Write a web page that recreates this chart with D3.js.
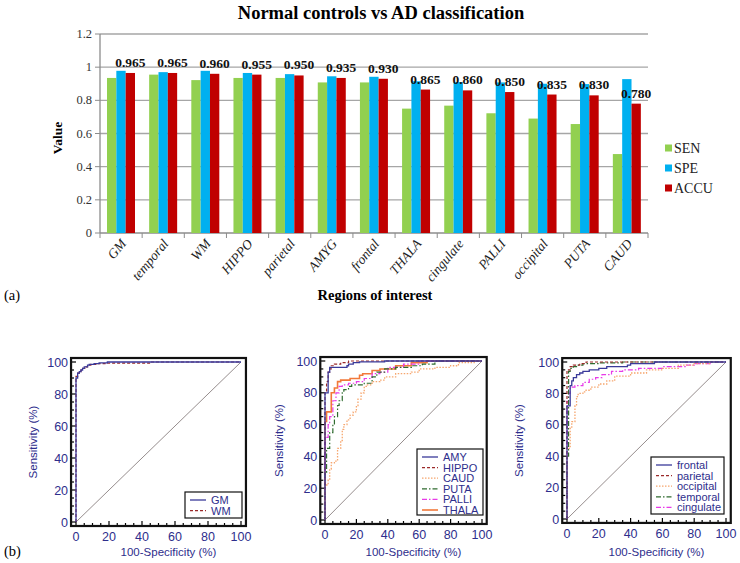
<!DOCTYPE html>
<html><head><meta charset="utf-8">
<script src="https://cdn.jsdelivr.net/npm/d3@7"></script>
<style>body{margin:0;background:#fff}svg{display:block}</style>
</head><body><svg id="c" width="740" height="563"></svg>
<script>
// ---------- DATA ----------
const categories = ["GM","temporal","WM","HIPPO","parietal","AMYG","frontal","THALA","cingulate","PALLI","occipital","PUTA","CAUD"];
const seriesNames = ["SEN","SPE","ACCU"];
const senValues  = [0.935,0.955,0.922,0.935,0.935,0.908,0.908,0.750,0.768,0.722,0.690,0.657,0.476];
const speValues  = [0.978,0.970,0.978,0.965,0.958,0.945,0.942,0.915,0.910,0.908,0.900,0.898,0.928];
const accuValues = [0.965,0.965,0.960,0.955,0.950,0.935,0.930,0.865,0.860,0.850,0.835,0.830,0.780];
const barTicks = [0,0.2,0.4,0.6,0.8,1,1.2];

// ROC curves: [100-Specificity %, Sensitivity %]
const rocGM = [[0,0],[0,88],[1,90],[1,92],[2,93],[3,94],[4,95],[5,96],[7,97],[8,98],[11,98.5],[14,99],[19,99.5],[20,100],[100,100]];
const rocWM = [[0,0],[0,89],[1,91],[2,93],[3,94],[4,95],[6,96],[7,97],[9,98],[12,98.5],[19,99],[45,99.3],[46,100],[100,100]];
const rocAMY = [[0,0],[0,80],[2,80],[2,86],[3,93],[5,96],[14,96],[15,97],[18,98],[22,99],[38,99.5],[40,100],[100,100]];
const rocHIPPO = [[0,0],[0,72],[1,80],[2,87],[3,93],[4,95],[6,97],[10,98],[15,99],[20,100],[100,100]];
const rocCAUD = [[0,0],[0,20],[2,22],[3,25],[4,32],[6,36],[8,37],[10,45],[11,50],[12,57],[14,60],[16,63],[18,66],[20,68],[21,72],[23,76],[25,80],[27,84],[30,85],[35,87],[38,88],[45,90],[55,92],[60,93],[70,95],[80,96],[85,97],[95,99],[100,100]];
const rocPUTA = [[0,0],[0,28],[1,30],[1,43],[3,45],[3,53],[5,55],[6,60],[8,65],[9,72],[11,75],[12,80],[15,82],[17,84],[25,85],[30,86],[33,90],[38,93],[45,95],[55,96],[62,97],[70,98],[78,100],[100,100]];
const rocPALLI = [[0,0],[0,50],[2,52],[3,60],[5,65],[7,75],[9,80],[11,84],[15,85],[20,86],[25,87],[30,89],[35,92],[40,93],[50,96],[60,98],[75,100],[100,100]];
const rocTHALA = [[0,0],[0,62],[1,62],[1,68],[4,68],[4,75],[6,80],[8,83],[10,87],[12,88],[16,88],[18,89],[22,89],[24,91],[30,92],[35,94],[45,95],[55,97],[65,99],[80,100],[100,100]];
const rocFrontal = [[0,0],[0,70],[2,72],[3,85],[4,88],[6,90],[8,92],[10,93],[14,94],[20,95],[25,96],[38,97],[40,98],[55,99],[70,100],[100,100]];
const rocParietal = [[0,0],[0,93],[2,95],[4,97],[8,98],[12,99],[16,100],[100,100]];
const rocOccipital = [[0,0],[0,40],[2,45],[3,58],[5,62],[6,72],[7,78],[10,80],[12,81],[15,82],[20,84],[25,86],[30,88],[40,91],[50,93],[60,95],[70,96],[80,98],[90,99],[100,100]];
const rocTemporal = [[0,0],[0,38],[1,40],[1,90],[2,94],[4,96],[6,97],[10,98],[20,99],[35,99.5],[60,100],[100,100]];
const rocCingulate = [[0,0],[0,72],[1,75],[2,80],[5,84],[10,85],[14,87],[18,89],[22,90],[28,92],[35,94],[45,95],[60,96],[75,97],[80,98],[90,99],[100,100]];
const rocTicks = [0,20,40,60,80,100];

// ---------- STYLES ----------
const barColors = ["#92d050","#00b0f0","#c00000"];
const serif = "'Liberation Serif','Times New Roman',serif";
const sans = "'Liberation Sans',Arial,sans-serif";
const navy = "#2e2e8c";
const styleMap = {
  navy:   {color:"#3a3a9a", dash:null, w:1.3},
  red:    {color:"#9b2a2a", dash:"3,2", w:1.2},
  orange: {color:"#f6a66e", dash:"1.5,1.5", w:1.3},
  green:  {color:"#2f6b2f", dash:"5,2,1.5,2", w:1.2},
  magenta:{color:"#e83be8", dash:"5,2,1.5,2", w:1.2},
  thala:  {color:"#f2793a", dash:null, w:1.6}
};

const svg = d3.select("#c");

// ---------- BAR CHART ----------
const bx = d3.scaleBand().domain(categories).range([100,648]);
const bs = d3.scaleBand().domain(seriesNames).range([7,35]);
const by = d3.scaleLinear().domain([0,1.2]).range([233,34]);

svg.append("text").attr("x",381).attr("y",19).attr("text-anchor","middle")
  .attr("font-family",serif).attr("font-weight","bold").attr("font-size",18.5)
  .text("Normal controls vs AD classification");

const gGrid = svg.append("g");
barTicks.forEach(t=>{
  gGrid.append("line").attr("x1",100).attr("x2",648).attr("y1",by(t)).attr("y2",by(t))
    .attr("stroke",t===0?"#8c8c8c":"#a6a6a6").attr("stroke-width",1.3);
  gGrid.append("line").attr("x1",95).attr("x2",100).attr("y1",by(t)).attr("y2",by(t)).attr("stroke","#8c8c8c");
  gGrid.append("text").attr("x",92).attr("y",by(t)+4).attr("text-anchor","end")
    .attr("font-family",serif).attr("font-size",12.5).attr("fill","#333").text(t);
});
gGrid.append("line").attr("x1",100).attr("x2",100).attr("y1",by(1.2)).attr("y2",by(0)).attr("stroke","#8c8c8c").attr("stroke-width",1.3);
categories.concat(["_end"]).forEach((c,i)=>{
  const xx = 100 + i*bx.step();
  gGrid.append("line").attr("x1",xx).attr("x2",xx).attr("y1",233).attr("y2",238).attr("stroke","#8c8c8c");
});

const valuesBySeries = [senValues, speValues, accuValues];
const gBars = svg.append("g");
categories.forEach((c,i)=>{
  seriesNames.forEach((s,j)=>{
    const v = valuesBySeries[j][i];
    gBars.append("rect").attr("x",bx(c)+bs(s)).attr("width",bs.bandwidth())
      .attr("y",by(v)).attr("height",by(0)-by(v)).attr("fill",barColors[j]);
  });
  gBars.append("text").attr("x",bx(c)+bs("ACCU")+bs.bandwidth()/2).attr("y",by(accuValues[i])-6)
    .attr("text-anchor","middle").attr("font-family",serif).attr("font-weight","bold").attr("font-size",13.5)
    .attr("fill","#111").text(d3.format(".3f")(accuValues[i]));
  const cx = bx(c)+bx.bandwidth()/2+6;
  gBars.append("text").attr("transform",`translate(${cx},244) rotate(-50)`).attr("text-anchor","end")
    .attr("font-family",serif).attr("font-style","italic").attr("font-size",13.5).attr("fill","#222").text(c);
});

svg.append("text").attr("transform","translate(62,138) rotate(-90)").attr("text-anchor","middle")
  .attr("font-family",serif).attr("font-weight","bold").attr("font-size",13.5).text("Value");
svg.append("text").attr("x",375).attr("y",300).attr("text-anchor","middle")
  .attr("font-family",serif).attr("font-weight","bold").attr("font-size",14.5).text("Regions of interest");
svg.append("text").attr("x",4).attr("y",300).attr("font-family",serif).attr("font-size",14.5).text("(a)");

seriesNames.forEach((s,j)=>{
  const ly = 148 + j*20;
  svg.append("rect").attr("x",665).attr("y",ly-3.5).attr("width",7).attr("height",7).attr("fill",barColors[j]);
  svg.append("text").attr("x",674).attr("y",ly+5).attr("font-family",serif).attr("font-size",14).attr("fill","#222").text(s);
});

// ---------- ROC PANELS ----------
const panels = [
  {x0:76, x1:241, y0:522, y1:362, sensX:33, series:[["GM",rocGM,"navy"],["WM",rocWM,"red"]],
   leg:{x:185,y:492,w:57,h:26}},
  {x0:325, x1:482, y0:520, y1:361, sensX:279, series:[["AMY",rocAMY,"navy"],["HIPPO",rocHIPPO,"red"],["CAUD",rocCAUD,"orange"],["PUTA",rocPUTA,"green"],["PALLI",rocPALLI,"magenta"],["THALA",rocTHALA,"thala"]],
   leg:{x:417,y:449,w:66,h:66}},
  {x0:567, x1:726, y0:519, y1:362, sensX:519, series:[["frontal",rocFrontal,"navy"],["parietal",rocParietal,"red"],["occipital",rocOccipital,"orange"],["temporal",rocTemporal,"green"],["cingulate",rocCingulate,"magenta"]],
   leg:{x:651,y:457,w:73,h:57}}
];

panels.forEach(p=>{
  const x = d3.scaleLinear().domain([0,100]).range([p.x0,p.x1]);
  const y = d3.scaleLinear().domain([0,100]).range([p.y0,p.y1]);
  const g = svg.append("g");
  const fl = x(-3), fr = x(103), ft = y(102.5), fb = y(-2.5);
  g.append("line").attr("x1",x(0)).attr("y1",y(0)).attr("x2",x(100)).attr("y2",y(100)).attr("stroke","#8a8080").attr("stroke-width",0.9);
  d3.range(0,101,5).forEach(t=>{
    const major = t%20===0, L = major?5:3;
    g.append("line").attr("x1",x(t)).attr("x2",x(t)).attr("y1",fb).attr("y2",fb-L).attr("stroke","#000").attr("stroke-width",1.2);
    g.append("line").attr("x1",fl).attr("x2",fl+L).attr("y1",y(t)).attr("y2",y(t)).attr("stroke","#000").attr("stroke-width",1.2);
  });
  const line = d3.line().x(d=>x(d[0])).y(d=>y(d[1])).curve(d3.curveStepBefore);
  p.series.slice().reverse().forEach(([name,data,st])=>{
    const s = styleMap[st];
    g.append("path").attr("d",line(data)).attr("fill","none").attr("stroke",s.color)
      .attr("stroke-width",s.w).attr("stroke-dasharray",s.dash);
  });
  g.append("rect").attr("x",fl).attr("y",ft).attr("width",fr-fl).attr("height",fb-ft)
    .attr("fill","none").attr("stroke","#111").attr("stroke-width",2.2);
  rocTicks.forEach(t=>{
    g.append("text").attr("x",x(t)).attr("y",fb+15).attr("text-anchor","middle")
      .attr("font-family",sans).attr("font-size",12.5).attr("fill",navy).text(t);
    g.append("text").attr("x",fl-3).attr("y",y(t)+4.5).attr("text-anchor","end")
      .attr("font-family",sans).attr("font-size",12.5).attr("fill",navy).text(t);
  });
  g.append("text").attr("x",(x(0)+x(100))/2+10).attr("y",556).attr("text-anchor","middle")
    .attr("font-family",sans).attr("font-size",11.5).attr("fill",navy).text("100-Specificity  (%)");
  g.append("text").attr("transform",`translate(${p.sensX+4},${(y(0)+y(100))/2}) rotate(-90)`).attr("text-anchor","middle")
    .attr("font-family",sans).attr("font-size",11.5).attr("fill",navy).text("Sensitivity  (%)");
  const L = p.leg;
  g.append("rect").attr("x",L.x).attr("y",L.y).attr("width",L.w).attr("height",L.h)
    .attr("fill","#fff").attr("stroke","#111").attr("stroke-width",1.2);
  p.series.forEach(([name,data,st],i)=>{
    const s = styleMap[st];
    const ly = L.y + 8 + i*10.6;
    g.append("line").attr("x1",L.x+5).attr("x2",L.x+21).attr("y1",ly).attr("y2",ly)
      .attr("stroke",s.color).attr("stroke-width",s.w).attr("stroke-dasharray",s.dash);
    g.append("text").attr("x",L.x+26).attr("y",ly+4).attr("font-family",sans).attr("font-size",11)
      .attr("fill",navy).text(name);
  });
});
svg.append("text").attr("x",4).attr("y",556).attr("font-family",serif).attr("font-size",14.5).text("(b)");
</script></body></html>
